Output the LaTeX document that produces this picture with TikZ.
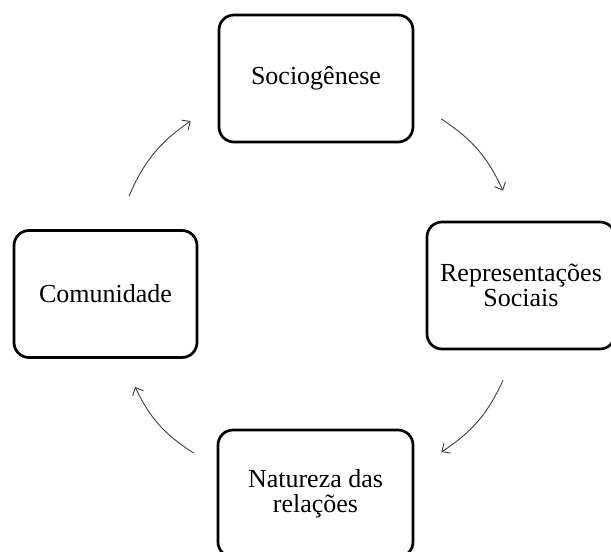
\documentclass[tikz,border=0pt]{standalone}
\usepackage{fontspec}
\setmainfont{Liberation Serif}
\usepackage{tikz}
\usetikzlibrary{arrows.meta}

\begin{document}
\begin{tikzpicture}[x=1pt, y=1pt,
        flow/.style={->, >={Straight Barb[length=6.5pt, width=12pt]}, draw=black!75, line width=0.9pt},
        box/.style={draw, line width=2.7pt, rounded corners=15pt, minimum height=127pt,
          align=center, font=\fontsize{26}{25.5}\selectfont},
      ]
      \useasboundingbox (0,0) rectangle (611,-552);

      % the four stages of the cycle
      \node[box, minimum width=194pt] (socio) at (316,-78.5) {Sociogênese};
      \node[box, minimum width=188pt] (rep) at (521,-285.5) {Representações\\Sociais};
      \node[box, minimum width=195pt] (nat) at (315.5,-493.5) {Natureza das\\relações};
      \node[box, minimum width=183pt] (com) at (105.5,-294) {Comunidade};

      % clockwise arrows between them
      \draw[flow] ([shift={(27pt,-40.5pt)}]socio.east) to[bend left=16] ([shift={(-18pt,30pt)}]rep.north);
      \draw[flow] ([shift={(-18pt,-30pt)}]rep.south) to[bend left=16] ([shift={(27pt,41.5pt)}]nat.east);
      \draw[flow] ([shift={(-23pt,40.5pt)}]nat.west) to[bend left=16] ([shift={(29.5pt,-28pt)}]com.south);
      \draw[flow] ([shift={(23.5pt,33pt)}]com.north) to[bend left=16] ([shift={(-27pt,-42.5pt)}]socio.west);
    \end{tikzpicture}
\end{document}
